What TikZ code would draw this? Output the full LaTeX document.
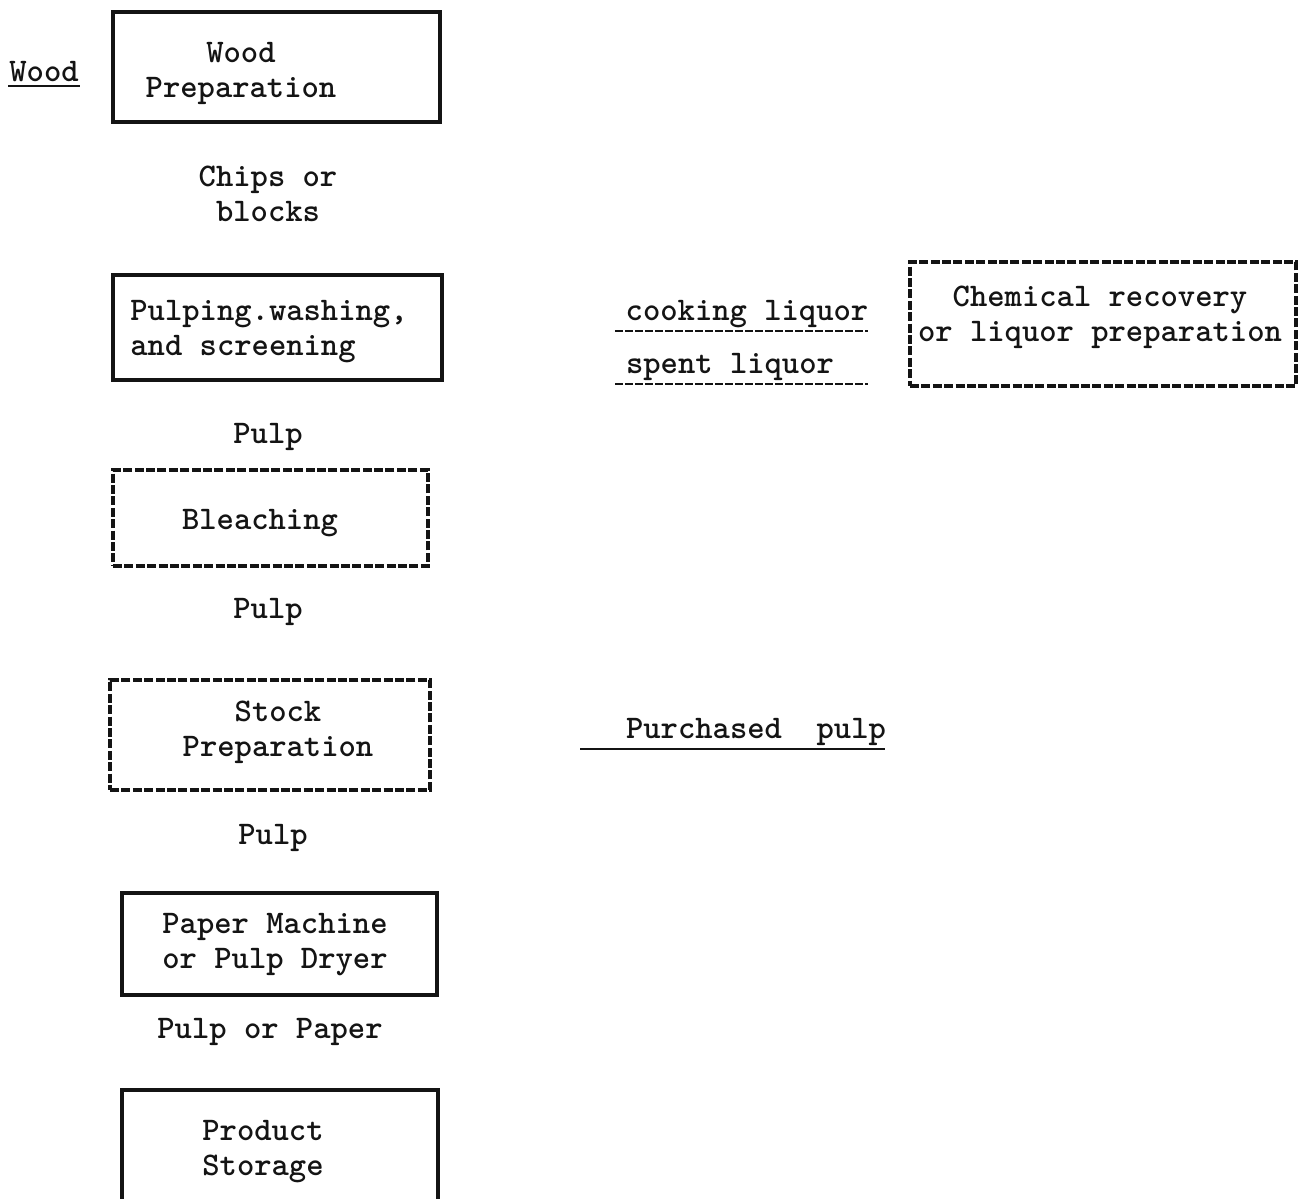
\documentclass[tikz,border=0pt]{standalone}
\usepackage{tikz}
\usetikzlibrary{positioning,fit}
\definecolor{typeink}{HTML}{141414}
\tikzset{
  procbox/.style={draw=typeink,line width=1.7pt,inner sep=0pt},
  dashbox/.style={draw=typeink,line width=1.6pt,dash pattern=on 4.5pt off 1.2pt,inner sep=0pt},
  flowtext/.style={text=typeink,font=\fontsize{16.5}{17.5}\selectfont\ttfamily\bfseries,align=center,inner sep=0pt},
  lefttext/.style={flowtext,align=left},
  underline/.style={typeink,line width=1.4pt},
  dashline/.style={typeink,line width=1.4pt,dash pattern=on 4pt off 1pt}
}
\begin{document}
\begin{tikzpicture}[x=0.5pt,y=-0.5pt]
  \clip (0,0) rectangle (1308,1199);
  \fill[white] (0,0) rectangle (1308,1199);
  % process boxes down the left side
  \node[procbox,fit={(113,12) (440,122)}] (woodprep) {};
  \node[flowtext] (woodpreptxt) at (241,73) {Wood\\Preparation};
  \node[procbox,fit={(113,275) (442,380)}] (pulping) {};
  \node[lefttext] (pulpingtxt) at (269,332) {Pulping.washing,\\and screening};
  \node[dashbox,fit={(113,470) (428,566)}] (bleach) {};
  \node[flowtext] (bleachtxt) at (260,523) {Bleaching};
  \node[dashbox,fit={(110,680) (430,790)}] (stockprep) {};
  \node[flowtext] (stockpreptxt) at (278,732) {Stock\\Preparation};
  \node[procbox,fit={(122,893) (437,995)}] (papermach) {};
  \node[flowtext] (papermachtxt) at (275,945) {Paper Machine\\or Pulp Dryer};
  \node[procbox,fit={(122,1090) (438,1260)}] (storage) {};
  \node[flowtext] (storagetxt) at (263,1152) {Product\\Storage};
  % stream labels between the boxes
  \node[flowtext] (wood) at (44,72) {Wood};
  \node[flowtext] (chips) at (268,194) {Chips or\\blocks};
  \node[flowtext] (pulpa) at (268,437) {Pulp};
  \node[flowtext] (pulpb) at (268,612) {Pulp};
  \node[flowtext] (pulpc) at (273,838) {Pulp};
  \node[flowtext] (pulppaper) at (270,1032) {Pulp or Paper};
  % liquor loop
  \node[dashbox,fit={(910,262) (1296,386)}] (chemrec) {};
  \node[flowtext] (chemrectxt) at (1100,317) {Chemical recovery\\or liquor preparation};
  \node[flowtext] (cooking) at (747,314) {cooking liquor};
  \node[flowtext] (spent) at (730,367) {spent liquor};
  \node[flowtext] (purchased) at (756,732) {Purchased\ \ pulp};
  % underlines
  \coordinate (woodA) at (8,86);
  \coordinate (woodB) at (80,86);
  \coordinate (cookA) at (615,331);
  \coordinate (cookB) at (868,331);
  \coordinate (spentA) at (615,384);
  \coordinate (spentB) at (868,384);
  \coordinate (buyA) at (580,749);
  \coordinate (buyB) at (885,749);
  \draw[underline] (woodA) -- (woodB);
  \draw[dashline] (cookA) -- (cookB);
  \draw[dashline] (spentA) -- (spentB);
  \draw[underline] (buyA) -- (buyB);
\end{tikzpicture}
\end{document}
